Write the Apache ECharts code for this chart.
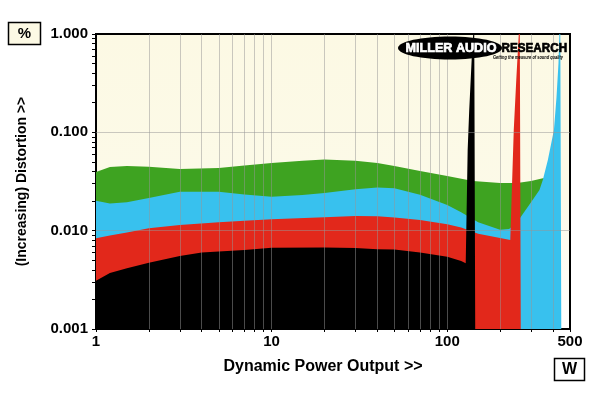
<!DOCTYPE html>
<html>
<head>
<meta charset="utf-8">
<script src="https://cdn.jsdelivr.net/npm/echarts@6/dist/echarts.min.js"></script>
<style>
html,body{margin:0;padding:0;background:#fff;}
#chart{width:600px;height:393px;}
</style>
</head>
<body>
<div id="chart"></div>
<script>
// ---- data (power in W, distortion in %) ----
const greenPower = [1, 1.2, 1.5, 2, 3, 5, 7, 10, 15, 20, 30, 40, 50, 70, 100, 140, 200, 250, 300, 355, 355.5];
const greenDist  = [0.0395, 0.0444, 0.0455, 0.0447, 0.0424, 0.0434, 0.046, 0.0488, 0.0515, 0.053, 0.0515, 0.0488, 0.0455, 0.0405, 0.036, 0.032, 0.0305, 0.0305, 0.032, 0.0343, 0.001];

const bluePower = [1, 1.2, 1.5, 2, 3, 5, 7, 10, 15, 20, 30, 40, 50, 70, 100, 120, 150, 200, 225, 240, 255, 300, 335, 350, 374, 405, 419, 430, 435, 440, 446];
const blueDist  = [0.0202, 0.0189, 0.0195, 0.0215, 0.0249, 0.0249, 0.0233, 0.0221, 0.0231, 0.0242, 0.0263, 0.0275, 0.027, 0.0232, 0.0182, 0.0154, 0.0122, 0.0102, 0.0104, 0.0114, 0.0128, 0.0194, 0.0259, 0.0327, 0.0523, 0.1056, 0.229, 0.507, 1.0, 1.5, 0.001];

const redPower = [1, 1.2, 1.5, 2, 3, 5, 7, 10, 20, 30, 40, 50, 70, 100, 120, 150, 200, 228.5, 239.2, 247.2, 255.5, 258.8, 262.2];
const redDist  = [0.00836, 0.00893, 0.00958, 0.01057, 0.0114, 0.0122, 0.0126, 0.0131, 0.01368, 0.0141, 0.0140, 0.0136, 0.0128, 0.0116, 0.01077, 0.00929, 0.00842, 0.00804, 0.1056, 0.3405, 1.0, 1.3, 0.001];

const blackPower = [1, 1.2, 1.5, 2, 3, 4, 5, 7, 10, 20, 30, 40, 50, 70, 100, 120, 127.4, 130.7, 133.4, 137.7, 140.5, 142.4, 144.3];
const blackDist  = [0.0031, 0.00371, 0.00414, 0.00472, 0.00553, 0.00598, 0.00615, 0.00636, 0.00671, 0.00674, 0.00666, 0.00646, 0.00643, 0.006, 0.00543, 0.00491, 0.00466, 0.0661, 0.1687, 0.544, 1.0, 1.5, 0.001];

const xLabels = [1, 10, 100, 500];
const xTicks  = [1,2,3,4,5,6,7,8,9,10,20,30,40,50,60,70,80,90,100,200,300,400,500];
const xGrid   = [2,3,4,5,6,7,8,9,10,20,30,40,50,60,70,80,90,100,200,300,400];
const yLabels = [0.001, 0.01, 0.1, 1];
const yTicks  = [0.001,0.002,0.003,0.004,0.005,0.006,0.007,0.008,0.009,0.01,0.02,0.03,0.04,0.05,0.06,0.07,0.08,0.09,0.1,0.2,0.3,0.4,0.5,0.6,0.7,0.8,0.9,1];
const yGrid   = [0.01, 0.1];

const FONT = 'Liberation Sans, Arial, sans-serif';
function pairs(xs, ys){ return xs.map((x,i)=>[x, ys[i]]); }
function areaSeries(name, xs, ys, color){
  return {
    name, type:'line', data: pairs(xs, ys), symbol:'none', smooth:false,
    lineStyle:{width:0, opacity:0},
    areaStyle:{color, opacity:1, origin:'start'},
    silent:true, clip:true
  };
}

const chart = echarts.init(document.getElementById('chart'), null, {renderer:'canvas'});
chart.setOption({
  animation:false,
  backgroundColor:'#ffffff',
  grid:{left:96, right:30, top:34, bottom:64, show:true, borderColor:'#000', borderWidth:2,
    backgroundColor:{type:'linear', x:0, y:0, x2:0, y2:1, colorStops:[
      {offset:0, color:'#fcf9e4'}, {offset:0.55, color:'#fcfae8'}, {offset:1, color:'#ffffff'}]}},
  xAxis:{
    type:'log', logBase:10, min:1, max:500,
    name:'Dynamic Power Output >>', nameLocation:'middle', nameGap:30,
    nameTextStyle:{fontFamily:FONT, fontWeight:'bold', fontSize:16, color:'#000', padding:[0,20,0,0]},
    axisLine:{show:true, lineStyle:{color:'#000', width:1}},
    axisTick:{show:true, customValues:xTicks, length:3, lineStyle:{color:'#000', width:1}},
    minorTick:{show:false},
    axisLabel:{customValues:xLabels, fontFamily:FONT, fontWeight:'bold', fontSize:15, color:'#000', margin:5,
      formatter:(v)=>String(Math.round(v))},
    splitLine:{show:false}
  },
  yAxis:{
    type:'log', logBase:10, min:0.001, max:1,
    name:'(Increasing) Distortion >>', nameLocation:'middle', nameGap:67,
    nameTextStyle:{fontFamily:FONT, fontWeight:'bold', fontSize:14, color:'#000'},
    axisLine:{show:true, lineStyle:{color:'#000', width:1}},
    axisTick:{show:true, customValues:yTicks, length:4, lineStyle:{color:'#000', width:1}},
    minorTick:{show:false},
    axisLabel:{customValues:yLabels, fontFamily:FONT, fontWeight:'bold', fontSize:15, color:'#000', margin:8,
      formatter:(v)=>Number(v).toFixed(3)},
    splitLine:{show:false}
  },
  series:[
    areaSeries('green', greenPower, greenDist, '#3ea321'),
    areaSeries('blue', bluePower, blueDist, '#38c1ee'),
    areaSeries('red', redPower, redDist, '#e2281b'),
    areaSeries('black', blackPower, blackDist, '#000000'),
    {
      name:'grid', type:'line', data:[[1,0.001]], symbol:'none', lineStyle:{opacity:0}, silent:true, z:5,
      markLine:{silent:true, symbol:'none', label:{show:false}, animation:false,
        lineStyle:{color:'rgba(150,150,150,0.5)', width:1, type:'solid'},
        data: xGrid.map(v=>({xAxis:v})).concat(yGrid.map(v=>({yAxis:v})))}
    }
  ],
  graphic:[
    {type:'rect', shape:{x:8.5, y:22.5, width:32, height:22}, style:{fill:'#fcf9e4', stroke:'#000', lineWidth:1.5}, z:10},
    {type:'text', x:24.5, y:34, style:{text:'%', fill:'#000', font:'bold 15px '+FONT, textAlign:'center', textVerticalAlign:'middle'}, z:11},
    {type:'rect', shape:{x:554.5, y:358.5, width:30, height:22}, style:{fill:'#ffffff', stroke:'#000', lineWidth:1.5}, z:10},
    {type:'text', x:569.5, y:370, style:{text:'W', fill:'#000', font:'bold 16px '+FONT, textAlign:'center', textVerticalAlign:'middle'}, z:11},
    {type:'ellipse', shape:{cx:450, cy:48, rx:52, ry:11.5}, style:{fill:'#000'}, z:20},
    {type:'text', x:451, y:48, scaleX:0.97, style:{text:'MILLER AUDIO', fill:'#fff', stroke:'#fff', lineWidth:0.7, font:'bold 13px '+FONT, textAlign:'center', textVerticalAlign:'middle'}, z:21},
    {type:'text', x:501.5, y:48, scaleX:0.9, style:{text:'RESEARCH', fill:'#000', stroke:'#000', lineWidth:0.7, font:'bold 13px '+FONT, textAlign:'left', textVerticalAlign:'middle'}, z:21},
    {type:'text', x:493, y:57.5, scaleX:0.72, style:{text:'Getting the measure of sound quality', fill:'#000', font:'italic bold 5.5px '+FONT, textAlign:'left', textVerticalAlign:'middle'}, z:21}
  ]
});
</script>
</body>
</html>
